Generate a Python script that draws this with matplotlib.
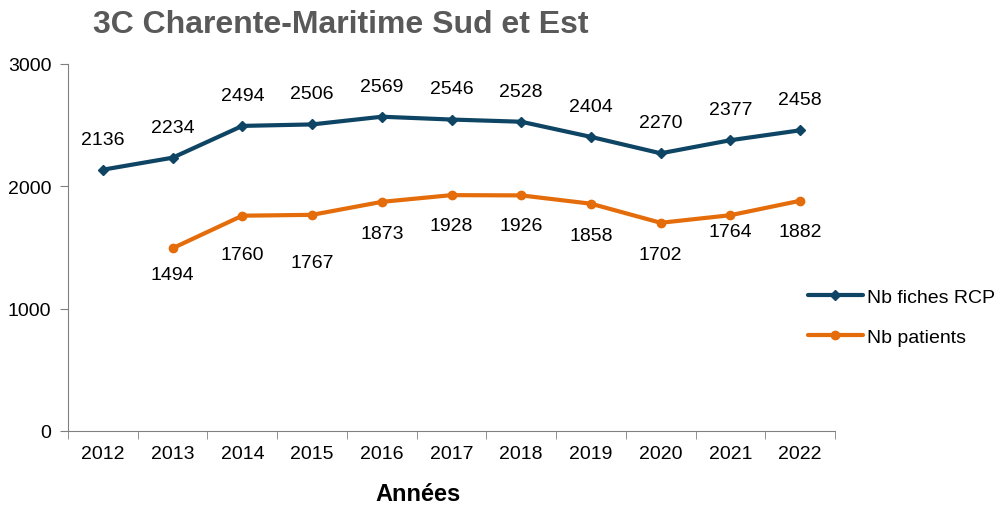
import matplotlib.pyplot as plt

# ---------
# Chart data
# ---------
years = ["2012", "2013", "2014", "2015", "2016", "2017",
         "2018", "2019", "2020", "2021", "2022"]
nb_fiches_rcp = [2136, 2234, 2494, 2506, 2569, 2546, 2528, 2404, 2270, 2377, 2458]
nb_patients = [None, 1494, 1760, 1767, 1873, 1928, 1926, 1858, 1702, 1764, 1882]

# label offsets below the orange points (points), as placed in the original
patient_label_offsets = [0, 19, 28, 34, 23, 22, 22, 23, 23, 12, 22]

BLUE = "#0F4564"
ORANGE = "#E46C0A"

plt.rcParams["font.family"] = ["Liberation Sans", "DejaVu Sans"]

fig = plt.figure(figsize=(10.06, 5.06), dpi=100)
ax = fig.add_axes([68 / 1006, 74 / 506, 767 / 1006, 367 / 506])

x = list(range(len(years)))
ax.plot(x, nb_fiches_rcp, color=BLUE, lw=3, marker="D", ms=5,
        label="Nb fiches RCP", solid_capstyle="round")
px = [i for i, v in zip(x, nb_patients) if v is not None]
pv = [v for v in nb_patients if v is not None]
ax.plot(px, pv, color=ORANGE, lw=3, marker="o", ms=6,
        label="Nb patients", solid_capstyle="round")

for i, v in zip(x, nb_fiches_rcp):
    ax.annotate(str(v), (i, v), xytext=(0, 22), textcoords="offset points",
                ha="center", va="center", fontsize=14, color="black")
for i, v in zip(x, nb_patients):
    if v is None:
        continue
    ax.annotate(str(v), (i, v), xytext=(0, -patient_label_offsets[i]),
                textcoords="offset points", ha="center", va="center",
                fontsize=14, color="black")

ax.set_xlim(-0.5, len(years) - 0.5)
ax.set_ylim(0, 3000)
ax.set_yticks([0, 1000, 2000, 3000])
ax.set_xticks(x)
ax.set_xticklabels(years)
ax.set_xticks([i - 0.5 for i in range(len(years) + 1)], minor=True)
ax.tick_params(axis="x", which="major", length=0, labelsize=14, pad=10)
ax.tick_params(axis="x", which="minor", length=6, color="#808080")
ax.tick_params(axis="y", length=6, color="#808080", labelsize=14, pad=6)

for side in ("top", "right"):
    ax.spines[side].set_visible(False)
for side in ("left", "bottom"):
    ax.spines[side].set_color("#808080")

ax.set_xlabel("Années", fontsize=17, fontweight="bold", va="center")
ax.xaxis.set_label_coords(0.456, -0.169)
fig.text(93 / 1006, 1 - 25 / 506, "3C Charente-Maritime Sud et Est",
         fontsize=23, fontweight="bold", color="#595959", va="center")

ax.legend(loc="center left", bbox_to_anchor=(0.965, 0.31), frameon=False,
          fontsize=14, handlelength=2.8, handletextpad=0.25, labelspacing=1.15,
          borderaxespad=0, borderpad=0)

fig.savefig("out.png", dpi=100)
